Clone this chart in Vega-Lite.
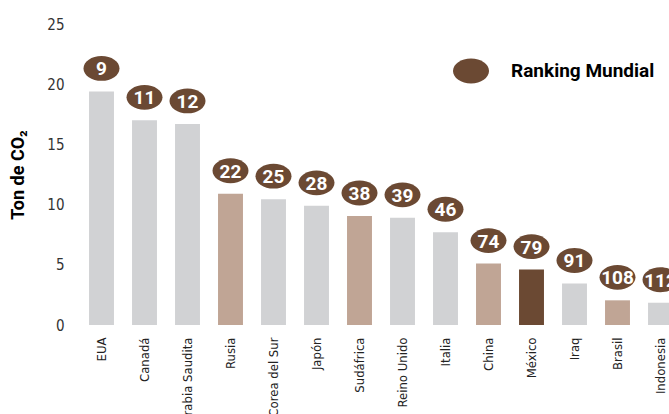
{
  "$schema": "https://vega.github.io/schema/vega-lite/v6.json",
  "autosize": "none",
  "width": 602,
  "height": 301,
  "padding": {"left": 80, "top": 24, "right": 0, "bottom": 89},
  "background": "white",
  "config": {"view": {"stroke": null}, "font": "Liberation Sans Narrow, DejaVu Sans Condensed, sans-serif"},
  "data": {"values": [
    {"pais": "EUA", "ton": 19.4, "rank": 9, "grupo": "otro"},
    {"pais": "Canadá", "ton": 17.0, "rank": 11, "grupo": "otro"},
    {"pais": "Arabia Saudita", "ton": 16.7, "rank": 12, "grupo": "otro"},
    {"pais": "Rusia", "ton": 10.9, "rank": 22, "grupo": "brics"},
    {"pais": "Corea del Sur", "ton": 10.45, "rank": 25, "grupo": "otro"},
    {"pais": "Japón", "ton": 9.9, "rank": 28, "grupo": "otro"},
    {"pais": "Sudáfrica", "ton": 9.05, "rank": 38, "grupo": "brics"},
    {"pais": "Reino Unido", "ton": 8.9, "rank": 39, "grupo": "otro"},
    {"pais": "Italia", "ton": 7.7, "rank": 46, "grupo": "otro"},
    {"pais": "China", "ton": 5.1, "rank": 74, "grupo": "brics"},
    {"pais": "México", "ton": 4.6, "rank": 79, "grupo": "mexico"},
    {"pais": "Iraq", "ton": 3.45, "rank": 91, "grupo": "otro"},
    {"pais": "Brasil", "ton": 2.05, "rank": 108, "grupo": "brics"},
    {"pais": "Indonesia", "ton": 1.85, "rank": 112, "grupo": "otro"}
  ]},
  "encoding": {
    "x": {"field": "pais", "type": "nominal", "sort": null,
      "scale": {"paddingInner": 0.42, "paddingOuter": 0.21},
      "axis": {"title": null, "labelAngle": 270, "labelFontSize": 13, "labelColor": "#222", "labelPadding": 12, "ticks": false, "domain": false}},
    "y": {"field": "ton", "type": "quantitative",
      "scale": {"domain": [0, 25]},
      "axis": {"values": [0, 5, 10, 15, 20, 25], "grid": false, "domain": false, "ticks": false,
        "labelFontSize": 15, "labelColor": "#333", "labelPadding": 16,
        "title": "Ton de CO₂", "titleFontSize": 18, "titleFontWeight": "bold", "titleColor": "#000",
        "titleFont": "Roboto", "titlePadding": 19}}
  },
  "layer": [
    {"mark": {"type": "bar"},
     "encoding": {"color": {"field": "grupo", "type": "nominal",
       "scale": {"domain": ["otro", "brics", "mexico"], "range": ["#D1D2D4", "#C0A595", "#6B4933"]}, "legend": null}}},
    {"mark": {"type": "point", "filled": true, "opacity": 1, "yOffset": -23,
       "shape": "M-1,0 A1,0.69 0 1,0 1,0 A1,0.69 0 1,0 -1,0 Z", "size": 1296},
     "encoding": {"fill": {"datum": "Ranking Mundial", "type": "nominal",
       "scale": {"domain": ["Ranking Mundial"], "range": ["#6B4933"]},
       "legend": {"title": null, "orient": "none", "legendX": 372, "legendY": 28,
         "symbolType": "M-1,0 A1,0.69 0 1,0 1,0 A1,0.69 0 1,0 -1,0 Z", "symbolSize": 1296,
         "labelFontSize": 19, "labelFontWeight": "bold", "labelColor": "#000", "labelOffset": 21, "labelLimit": 400,
         "labelFont": "Roboto"}}}},
    {"mark": {"type": "text", "color": "white", "fontWeight": "bold", "fontSize": 19, "font": "Roboto", "yOffset": -22, "baseline": "middle"},
     "encoding": {"text": {"field": "rank"}}}
  ]
}
